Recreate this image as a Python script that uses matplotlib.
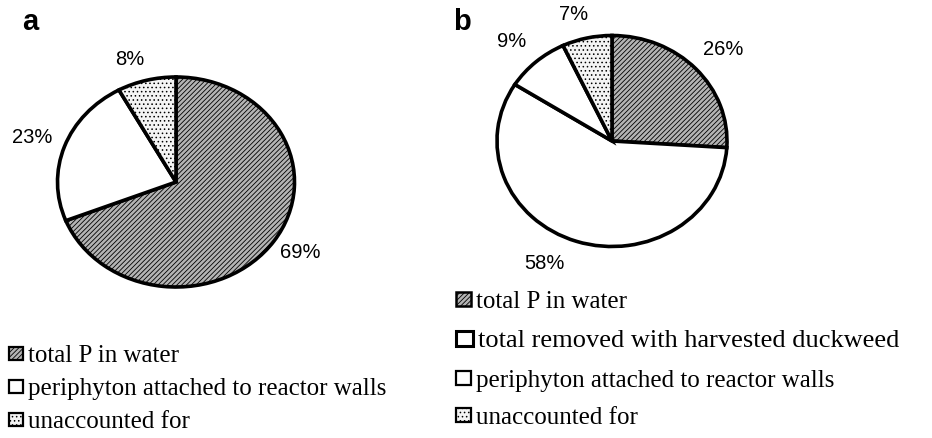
import matplotlib
matplotlib.use("Agg")
import matplotlib.pyplot as plt
from matplotlib.patches import Rectangle
import numpy as np

# Data
labels_a = ["total P in water", "periphyton attached to reactor walls", "unaccounted for"]
values_a = [69, 23, 8]
labels_b = ["total P in water", "total removed with harvested duckweed",
            "periphyton attached to reactor walls", "unaccounted for"]
values_b = [26, 58, 9, 7]

W, H = 932, 439
fig = plt.figure(figsize=(W / 100, H / 100), dpi=100)

plt.rcParams["hatch.color"] = "#505050"
plt.rcParams["hatch.linewidth"] = 0.6

styles = {
    "total P in water": dict(facecolor="#b4b4b4", hatch="///////"),
    "total removed with harvested duckweed": dict(facecolor="white", hatch=None),
    "periphyton attached to reactor walls": dict(facecolor="white", hatch=None),
    "unaccounted for": dict(facecolor="#f4f4f4", hatch="...."),
}


def px_axes(cx, cy, rx, ry):
    return fig.add_axes([(cx - rx) / W, 1 - (cy + ry) / H, 2 * rx / W, 2 * ry / H])


def draw_pie(ax, values, labels, dists, nudges):
    wedges, _ = ax.pie(values, startangle=90, counterclock=False,
                       wedgeprops=dict(edgecolor="black", linewidth=2.6))
    for w, lab in zip(wedges, labels):
        st = styles[lab]
        w.set_facecolor(st["facecolor"])
        if st["hatch"]:
            w.set_hatch(st["hatch"])
    for w, v, d, n in zip(wedges, values, dists, nudges):
        ang = np.deg2rad((w.theta1 + w.theta2) / 2 + n)
        ax.text(d * np.cos(ang), d * np.sin(ang), f"{v}%", ha="center", va="center",
                fontsize=14.5, family="Liberation Sans")
    ax.set_aspect("auto")
    ax.set_xlim(-1, 1)
    ax.set_ylim(-1, 1)
    ax.axis("off")
    return wedges


ax_a = px_axes(176, 183, 118.5, 105)
draw_pie(ax_a, values_a, labels_a, [1.24, 1.29, 1.24], [2, 0, 4])
ax_b = px_axes(612, 142, 115, 105.5)
draw_pie(ax_b, values_b, labels_b, [1.30, 1.29, 1.29, 1.25], [-1, -9, 1, 3])

fig.text(30 / W, 1 - 22 / H, "a", fontsize=21, fontweight="bold", family="Liberation Sans",
         ha="center", va="center")
fig.text(462 / W, 1 - 22 / H, "b", fontsize=21, fontweight="bold", family="Liberation Sans",
         ha="center", va="center")


def draw_legend(labels, x_box, ys, sizes, boxes):
    for lab, y, fs, (bw, bh, lw) in zip(labels, ys, sizes, boxes):
        st = styles[lab]
        r = Rectangle(((x_box) / W, 1 - (y + bh / 2) / H), bw / W, bh / H,
                      transform=fig.transFigure, facecolor=st["facecolor"],
                      hatch=st["hatch"], edgecolor="black", linewidth=lw)
        fig.add_artist(r)
        fig.text((x_box + bw + 5) / W, 1 - y / H, lab, fontsize=fs,
                 family="Liberation Serif", ha="left", va="center_baseline")


draw_legend(labels_a, 9, [354, 387, 420], [18, 18, 18],
            [(14, 13, 1.6), (14, 13, 1.6), (14, 13, 1.6)])
draw_legend(labels_b, 456, [300, 339, 379, 416], [18, 19, 18, 18],
            [(15, 14, 1.8), (17, 15, 2.2), (15, 14, 1.6), (15, 14, 1.6)])

fig.savefig("out.png", dpi=100)
